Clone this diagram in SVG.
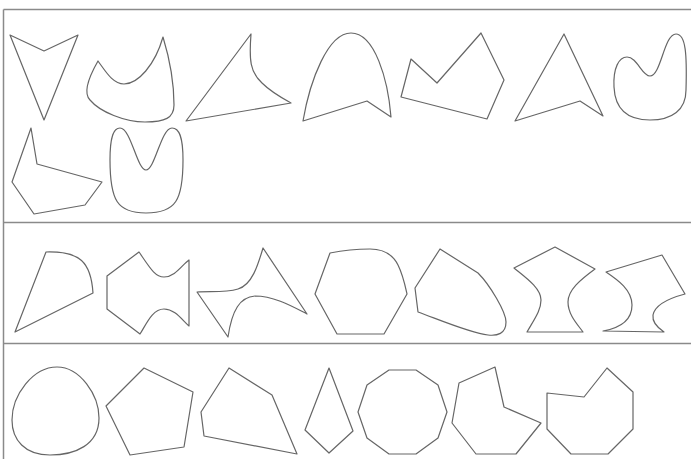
<svg xmlns="http://www.w3.org/2000/svg" width="691" height="459" viewBox="0 0 691 459">
<style>
.frame{stroke:#8a8a8a;stroke-width:1.5;fill:none}
.s{fill:none;stroke:#666;stroke-width:1.2;stroke-linejoin:round}
</style>
<rect width="691" height="459" fill="#fff"/>
<g id="frame">
<line class="frame" x1="3.5" y1="9.5" x2="691" y2="9.5"/>
<line class="frame" x1="3.5" y1="9.5" x2="3.5" y2="459"/>
<line class="frame" x1="3.5" y1="222.5" x2="691" y2="222.5"/>
<line class="frame" x1="3.5" y1="343.5" x2="691" y2="343.5"/>
</g>
<g id="row1">
<g id="s1"><path class="s" d="M10,35 L44,51 L78,35 L44,120 Z"/></g>
<g id="s2"><path class="s" d="M98,61 C106,72 113,84 124,84 C138,84 155,65 163,37 C170,60 174,85 174,105 C174,118 165,122 145,122 C125,122 100,112 90,100 C82,92 90,75 98,61 Z"/></g>
<g id="s3"><path class="s" d="M251,34 C249,60 250,72 262,83 C270,91 280,97 291,103 L186,121 Z"/></g>
<g id="s4"><path class="s" d="M303,121 C310,80 328,33 351,33 C375,33 388,80 391,117 L367,101 Z"/></g>
<g id="s5"><path class="s" d="M411,59 L437,83 L481,33 L504,80 L487,119 L401,97 Z"/></g>
<g id="s6"><path class="s" d="M564,34 L603,116 L580,101 L515,121 Z"/></g>
<g id="s7"><path class="s" d="M614,87 C613,68 619,57 627,57 C637,57 642,76 650,76 C661,76 664,34 676,34 C686,34 687,55 686,90 C686,110 672,120 650,120 C626,120 615,108 614,87 Z"/></g>
<g id="s8"><path class="s" d="M31,128 L37,164 L102,182 L85,205 L34,214 L12,182 Z"/></g>
<g id="s9"><path class="s" d="M110,160 C110,135 114,128 120,128 C131,128 137,170 146,170 C155,170 161,128 172,128 C179,128 183,136 183,160 C183,200 176,213 146,213 C117,213 110,200 110,160 Z"/></g>
</g>
<g id="row2">
<g id="s10"><path class="s" d="M15,332 L46,252 C80,251 91,262 93,293 Z"/></g>
<g id="s11"><path class="s" d="M107,276 L139,252 C150,268 155,277 164,277 C175,277 182,265 189,260 L189,326 C182,320 175,309 164,309 C152,309 146,325 140,334 L107,309 Z"/></g>
<g id="s12"><path class="s" d="M197,292 L228,337 C232,310 240,297 255,296 C275,296 295,308 307,314 L263,248 C258,265 252,285 238,289 C225,293 210,291 197,292 Z"/></g>
<g id="s13"><path class="s" d="M330,253 C345,250 358,249 370,249 C385,249 393,255 398,265 C403,275 405,285 407,294 L384,334 L337,334 L315,294 Z"/></g>
<g id="s14"><path class="s" d="M440,249 L478,273 C490,285 506,312 506,322 C506,334 497,336 488,335 C470,333 440,320 418,312 L415,288 Z"/></g>
<g id="s15"><path class="s" d="M514,268 L555,247 L595,269 C580,280 568,290 568,302 C568,315 578,325 583,332 L527,332 C535,318 541,310 541,300 C541,288 525,277 514,268 Z"/></g>
<g id="s16"><path class="s" d="M606,272 L662,255 L685,294 C670,298 655,305 653,315 C652,322 658,328 664,332 L603,331 C620,328 632,320 632,305 C632,290 618,280 606,272 Z"/></g>
</g>
<g id="row3">
<g id="s17"><path class="s" d="M57,367 C80,367 99,395 99,418 C99,445 75,455 50,455 C25,455 12,440 12,420 C12,395 33,367 57,367 Z"/></g>
<g id="s18"><path class="s" d="M144,368 L193,392 L184,447 L130,455 L106,406 Z"/></g>
<g id="s19"><path class="s" d="M229,368 L272,395 L297,454 L204,436 L201,412 Z"/></g>
<g id="s20"><path class="s" d="M329,368 L353,431 L329,453 L305,430 Z"/></g>
<g id="s21"><path class="s" d="M389,370 L416,370 L438,385 L447,412 L438,438 L416,454 L389,454 L367,438 L358,412 L367,385 Z"/></g>
<g id="s22"><path class="s" d="M495,367 L504,407 L541,423 L516,454 L476,454 L452,423 L459,383 Z"/></g>
<g id="s23"><path class="s" d="M607,368 L633,392 L633,429 L608,454 L571,454 L547,429 L547,393 L584,397 Z"/></g>
</g>
</svg>
